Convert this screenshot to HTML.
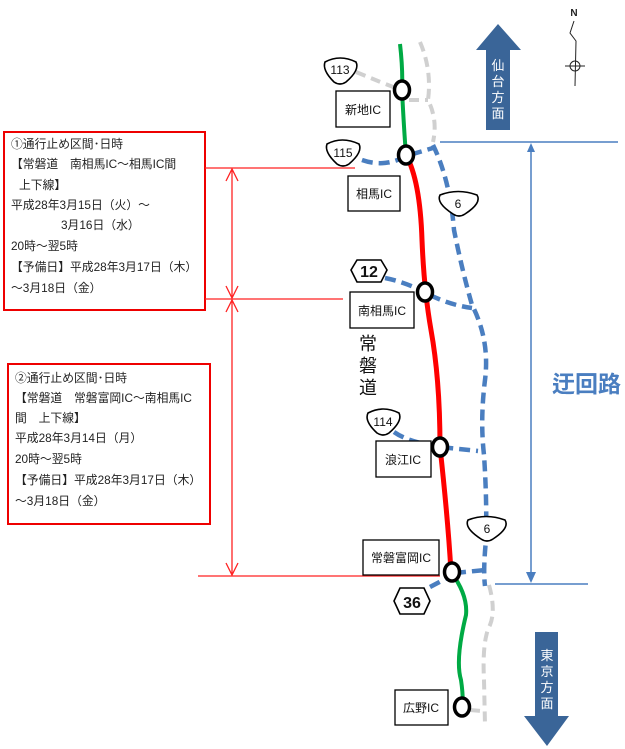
<!DOCTYPE html>
<html><head><meta charset="utf-8"><style>
html,body{margin:0;padding:0;background:#fff}
svg{display:block}
text{font-family:"Liberation Sans","Noto Sans CJK JP",sans-serif}
</style></head><body>
<svg width="625" height="749" viewBox="0 0 625 749" xmlns="http://www.w3.org/2000/svg">
<rect x="4" y="132" width="201" height="178" fill="#fff" stroke="#e00" stroke-width="2"/>
<g font-size="11.8" fill="#222">
<text x="11" y="148">①通行止め区間･日時</text>
<text x="11" y="168">【常磐道　南相馬IC～相馬IC間</text>
<text x="19" y="189">上下線】</text>
<text x="11" y="209">平成28年3月15日（火）～</text>
<text x="61" y="229">3月16日（水）</text>
<text x="11" y="250">20時～翌5時</text>
<text x="11" y="271">【予備日】平成28年3月17日（木）</text>
<text x="11" y="292">～3月18日（金）</text>
</g>
<rect x="8" y="364" width="202" height="160" fill="#fff" stroke="#e00" stroke-width="2"/>
<g font-size="11.8" fill="#222">
<text x="15" y="382">②通行止め区間･日時</text>
<text x="15" y="402">【常磐道　常磐富岡IC～南相馬IC</text>
<text x="15" y="422">間　上下線】</text>
<text x="15" y="442">平成28年3月14日（月）</text>
<text x="15" y="463">20時～翌5時</text>
<text x="15" y="484">【予備日】平成28年3月17日（木）</text>
<text x="15" y="505">～3月18日（金）</text>
</g>
<g stroke="#f22" stroke-width="1.3" fill="none">
<line x1="205" y1="168" x2="355" y2="168"/>
<line x1="205" y1="299" x2="343" y2="299"/>
<line x1="198" y1="576" x2="440" y2="576"/>
<line x1="232" y1="170" x2="232" y2="297"/>
<line x1="232" y1="301" x2="232" y2="574"/>
<polyline points="226,181 232,169 238,181"/>
<polyline points="226,286 232,298 238,286"/>
<polyline points="226,312 232,300 238,312"/>
<polyline points="226,563 232,575 238,563"/>
</g>
<g stroke="#4a7ec0" stroke-width="1.5" fill="none">
<line x1="440" y1="142" x2="618" y2="142"/>
<line x1="495" y1="584" x2="588" y2="584"/>
<line x1="531" y1="150" x2="531" y2="578"/>
</g>
<polygon points="531,143 527,152 535,152" fill="#4a7ec0"/>
<polygon points="531,583 526,572 536,572" fill="#4a7ec0"/>
<text x="552" y="392" font-size="23" font-weight="bold" fill="#4a7ec0">迂回路</text>
<polygon points="498,24 521,50 510,50 510,130 486,130 486,50 476,50" fill="#3a6598"/>
<g font-size="13" fill="#fff" text-anchor="middle"><text x="498" y="70">仙</text><text x="498" y="86">台</text><text x="498" y="102">方</text><text x="498" y="118">面</text></g>
<polygon points="535,632 558,632 558,716 569,716 547,746 524,716 535,716" fill="#3a6598"/>
<g font-size="13" fill="#fff" text-anchor="middle"><text x="547" y="660">東</text><text x="547" y="676">京</text><text x="547" y="692">方</text><text x="547" y="708">面</text></g>
<text x="574" y="16" font-size="10" font-weight="bold" text-anchor="middle" fill="#222">N</text>
<g stroke="#222" stroke-width="1" fill="none">
<polyline points="574,21 570,33 576,41 575,86"/>
<circle cx="575" cy="66" r="5"/>
<line x1="565" y1="66" x2="585" y2="66"/>
</g>
<g stroke="#d0d0d0" stroke-width="4" fill="none" stroke-dasharray="10,6">
<path d="M356,72 Q380,82 401,90"/>
<path d="M409,100 L428,100"/>
<path d="M420,42 Q432,70 428,100 Q438,120 433,142"/>
<path d="M489,585 Q496,610 490,625 Q482,640 484,680 L485,725"/>
<path d="M470,710 L482,711"/>
</g>
<g stroke="#4a7ec0" stroke-width="4.5" fill="none" stroke-dasharray="11,6">
<path d="M362,160 Q385,168 406,156 L433,148"/>
<path d="M433,145 Q450,180 454,230 Q462,270 472,305 Q490,340 485,380 Q480,420 484,455 Q487,500 486,540 Q483,570 485,586"/>
<path d="M385,278 Q405,282 424,292"/>
<path d="M430,295 Q450,305 472,308"/>
<path d="M394,432 Q408,442 440,447 L478,451"/>
<path d="M455,573 L485,570"/>
<path d="M430,587 L447,578"/>
</g>
<path d="M400,44 Q403,70 402,90 Q404,130 406,155" stroke="#00aa44" stroke-width="4" fill="none"/>
<path d="M406,155 Q420,180 422,240 Q424,290 431,330 Q440,380 440,447 Q448,520 451,572" stroke="#f00" stroke-width="5" fill="none"/>
<path d="M451,572 Q468,595 466,615 Q455,660 461,680 Q464,700 462,715" stroke="#00aa44" stroke-width="4" fill="none"/>
<g fill="#fff" stroke="#000" stroke-width="3.5">
<ellipse cx="402" cy="90" rx="7.5" ry="9"/>
<ellipse cx="406" cy="155" rx="7.5" ry="9"/>
<ellipse cx="425" cy="292" rx="7.5" ry="9"/>
<ellipse cx="440" cy="447" rx="7.5" ry="9"/>
<ellipse cx="452" cy="572" rx="7.5" ry="9"/>
<ellipse cx="462" cy="707" rx="7.5" ry="9"/>
</g>
<g fill="#fff" stroke="#000" stroke-width="1.3">
<rect x="336" y="91" width="54" height="36"/>
<rect x="348" y="176" width="52" height="35"/>
<rect x="350" y="292" width="64" height="36"/>
<rect x="376" y="441" width="55" height="36"/>
<rect x="363" y="540" width="76" height="35"/>
<rect x="395" y="690" width="53" height="35"/>
</g>
<g font-size="12" fill="#111" text-anchor="middle">
<text x="363" y="114">新地IC</text>
<text x="374" y="198">相馬IC</text>
<text x="382" y="315">南相馬IC</text>
<text x="403" y="464">浪江IC</text>
<text x="401" y="562">常磐富岡IC</text>
<text x="421" y="712">広野IC</text>
</g>
<text x="0" y="0" font-size="18" fill="#111" text-anchor="middle"><tspan x="368" y="350">常</tspan><tspan x="368" y="372">磐</tspan><tspan x="368" y="394">道</tspan></text>
<g fill="#fff" stroke="#000" stroke-width="1.6">
<path d="M325,62 Q340,54 356,62 Q360,70 346,82 Q340,86 334,82 Q322,70 325,62Z"/>
<path d="M327,144 Q342,136 359,144 Q363,152 349,164 Q343,168 337,164 Q324,152 327,144Z"/>
<path d="M440,195 Q458,188 477,195 Q482,203 465,214 Q459,218 453,214 Q436,203 440,195Z"/>
<path d="M368,413 Q383,405 399,413 Q403,421 389,433 Q383,437 377,433 Q364,421 368,413Z"/>
<path d="M468,520 Q486,513 505,520 Q510,528 493,539 Q487,543 481,539 Q464,528 468,520Z"/>
<polygon points="357,260 381,260 387,270 381,282 357,282 351,270"/>
<polygon points="400,588 424,588 430,601 424,614 400,614 394,601"/>
</g>
<g font-size="12" fill="#111" text-anchor="middle">
<text x="340" y="74">113</text>
<text x="343" y="157">115</text>
<text x="458" y="208">6</text>
<text x="383" y="426">114</text>
<text x="487" y="533">6</text>
</g>
<text x="369" y="277" font-size="16" font-weight="bold" text-anchor="middle" fill="#111">12</text>
<text x="412" y="608" font-size="16" font-weight="bold" text-anchor="middle" fill="#111">36</text>
</svg>
</body></html>
